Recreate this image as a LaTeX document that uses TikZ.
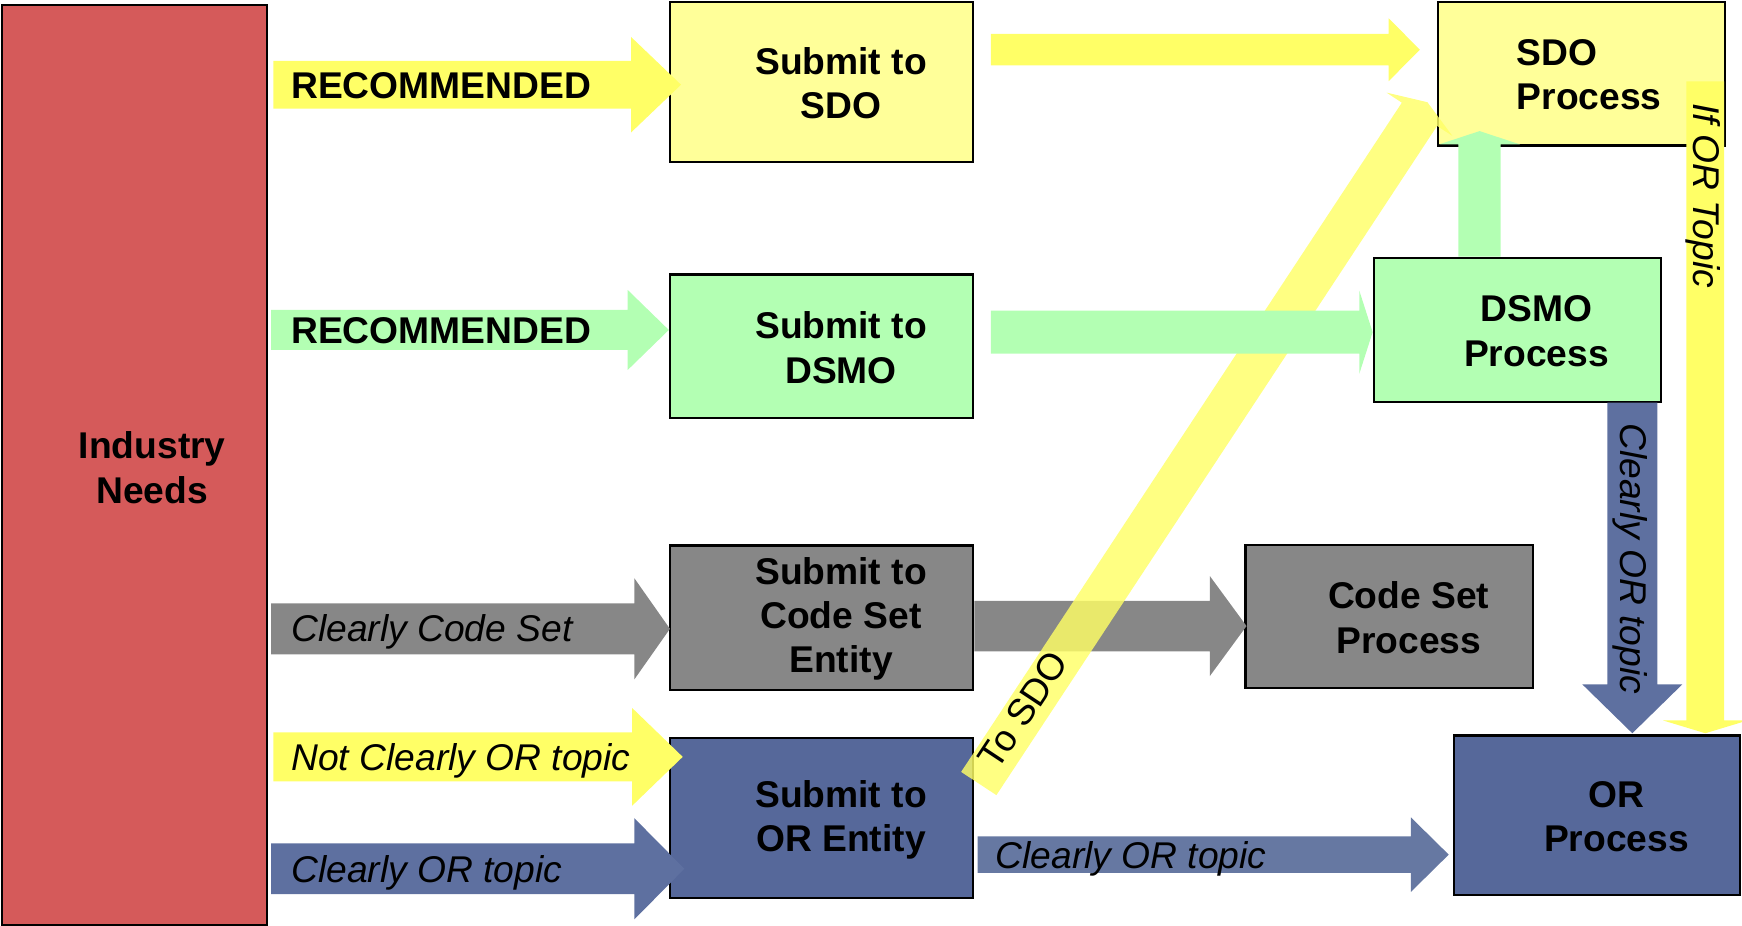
\documentclass[tikz,border=0pt]{standalone}
\usepackage{fontspec}
\setmainfont{Liberation Sans}
\usetikzlibrary{calc}

\definecolor{needred}{RGB}{213,90,90}
\definecolor{sdobox}{RGB}{255,255,153}
\definecolor{sdoarrow}{RGB}{255,255,102}
\definecolor{dsmogreen}{RGB}{179,255,179}
\definecolor{csgray}{RGB}{135,135,135}
\definecolor{orbox}{RGB}{86,104,154}
\definecolor{ordots}{RGB}{94,112,160}
\definecolor{orarrow}{RGB}{102,120,162}

\newcommand\sz{\fontsize{33.5pt}{40pt}\selectfont}

\tikzset{
  along/.style={shift={(\p1)}, rotate=\n1},
  box/.style={draw, line width=2pt, minimum width=273pt, minimum height=130pt},
  boxtext/.style={font=\sz\bfseries, align=center, inner sep=0pt},
  bandtext/.style={font=\sz\bfseries, anchor=west, inner sep=0pt},
  arrowtext/.style={font=\sz\itshape, anchor=west, inner sep=0pt}
}

% [fill]{tail}{tip}{shaft width}{head width}{head length}
\newcommand\blockarrow[6][]{%
  \fill [#1] let \p1 = (#2), \p2 = (#3),
    \n1 = {atan2(\y2-\y1,\x2-\x1)}, \n2 = {veclen(\x2-\x1,\y2-\y1)} in
    ([along] 0,#4/2) -- ([along] \n2-#6,#4/2) -- ([along] \n2-#6,#5/2)
    -- ([along] \n2,0) -- ([along] \n2-#6,-#5/2) -- ([along] \n2-#6,-#4/2)
    -- ([along] 0,-#4/2) -- cycle;}

\begin{document}
\begin{tikzpicture}[x=1pt, y=-1pt]
    \useasboundingbox (0, 0) rectangle (1568, 833.5);
    \node [box, fill=needred, minimum width=238pt, minimum height=828.5pt] (need) at (121, 418.75) {};
    \node [box, fill=sdobox, minimum height=144.5pt] (sdo) at (739.5, 73.75) {};
    \node [box, fill=dsmogreen, minimum height=129pt] (dsmo) at (739.5, 311.5) {};
    \node [box, fill=csgray] (cse) at (739.5, 556) {};
    \node [box, fill=orbox, minimum height=143.5pt] (ore) at (739.5, 736.25) {};
    \node [box, fill=sdobox, minimum width=259pt, minimum height=129.5pt] (sdop) at (1423.5, 66.25) {};
    \node [box, fill=dsmogreen, minimum width=258.5pt, minimum height=129.5pt] (dsmop) at (1365.75, 296.75) {};
    \node [box, fill=csgray, minimum width=259pt, minimum height=129pt] (csp) at (1250.5, 555) {};
    \node [box, fill=orbox, minimum width=257.5pt, minimum height=143.5pt] (orp) at (1437.25, 733.75) {};

    \blockarrow[csgray]{$(cse.east)+(0,7.5)$}{$(cse.east -| csp.west)+(2,7.5)$}{45.5}{90}{33}
    \blockarrow[sdoarrow, fill opacity=.82]{$(ore.east)+(4,-31)$}{$(sdop.west)+(-8,25.5)$}{38}{71}{13}
    \blockarrow[dsmogreen]{$(dsmo.east)+(15,-12.5)$}{$(dsmo.east -| dsmop.west)+(0,-12.5)$}{38.6}{75}{12}
    \blockarrow[sdoarrow]{$(need.east |- sdo.west)+(5,2.5)$}{$(sdo.west)+(11,2.5)$}{43}{86}{45}
    \blockarrow[dsmogreen]{$(need.east |- dsmo.west)+(3,-14.5)$}{$(dsmo.west)+(0,-14.5)$}{36}{72}{37}
    \blockarrow[csgray]{$(need.east |- cse.west)+(3,10)$}{$(cse.west)+(1,10)$}{46}{91}{32}
    \blockarrow[sdoarrow]{$(need.east |- ore.west)+(5,-55)$}{$(ore.west)+(12.5,-55)$}{44}{88}{45.5}
    \blockarrow[ordots]{$(need.east |- ore.west)+(3,45.75)$}{$(ore.west)+(14,45.75)$}{45.6}{91}{45}
    \blockarrow[sdoarrow]{$(sdo.east)+(15,-29)$}{$(sdo.east -| sdop.west)+(-15,-29)$}{28.4}{56.5}{28}
    \blockarrow[dsmogreen]{$(dsmop.north)+(-34,0)$}{$(dsmop.north |- sdop.south)+(-34,-14)$}{38}{73}{12}
    \blockarrow[orarrow]{$(ore.east)+(3,33)$}{$(ore.east -| orp.west)+(-3.5,33)$}{33}{67}{34}
    \blockarrow[ordots]{$(dsmop.south)+(103.5,0)$}{$(dsmop.south |- orp.north)+(103.5,-1)$}{45}{90}{44}
    \blockarrow[sdoarrow]{$(sdop.east)+(-19,7)$}{$(sdop.east |- orp.north)+(-19,-1)$}{34}{76}{11.5}

    \node [boxtext] (needlbl) at (137, 421) {Industry\\Needs};
    \node [boxtext] (sdolbl) at (757, 75) {Submit to\\SDO};
    \node [boxtext] (dsmolbl) at (757, 313) {Submit to\\DSMO};
    \node [boxtext] (cselbl) at (757, 557) {Submit to\\Code Set\\Entity};
    \node [boxtext] (orelbl) at (757, 738) {Submit to\\OR Entity};
    \node [boxtext, anchor=west, align=left] (sdoplbl) at (1365, 67) {SDO\\Process};
    \node [boxtext] (dsmoplbl) at (1383, 298) {DSMO\\Process};
    \node [boxtext] (csplbl) at (1268, 556) {Code Set\\Process};
    \node [boxtext] (orplbl) at (1455, 735) {OR\\Process};

    \node [bandtext] (rec1) at (262, 77) {RECOMMENDED};
    \node [bandtext] (rec2) at (262, 298) {RECOMMENDED};
    \node [arrowtext] (codeset) at (262, 569) {Clearly Code Set};
    \node [arrowtext] (notor) at (262, 685) {Not Clearly OR topic};
    \node [arrowtext] (clearor1) at (262, 786) {Clearly OR topic};
    \node [arrowtext] (clearor2) at (896, 773) {Clearly OR topic};
    \node [arrowtext, anchor=center, rotate=-90] (clearor3) at (1467, 503) {Clearly OR topic};
    \node [arrowtext, anchor=center, rotate=-90] (ifor) at (1533, 176) {If OR Topic};
    \node [font=\sz, inner sep=0pt, rotate=56.5] (tosdo) at (921, 639) {To SDO};
  \end{tikzpicture}
\end{document}
